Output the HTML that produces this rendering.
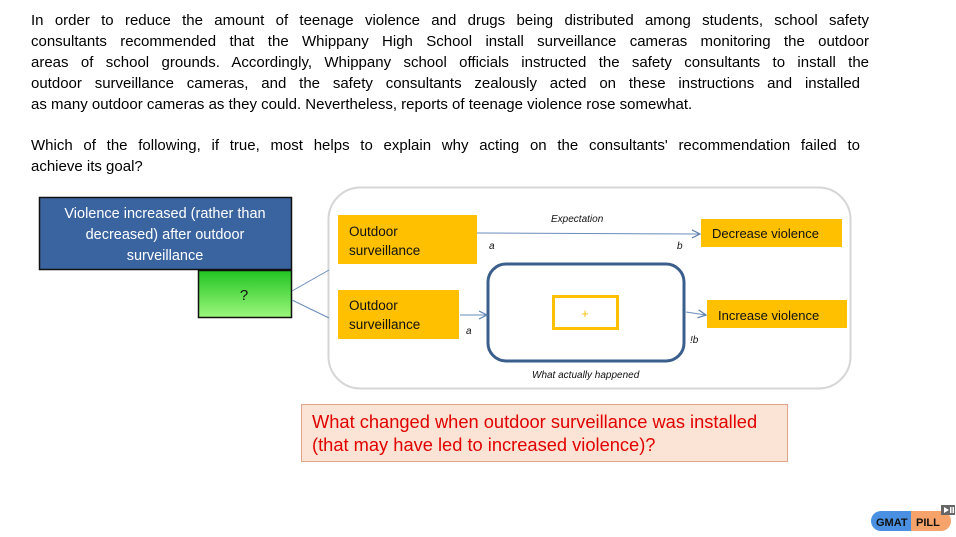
<!DOCTYPE html>
<html><head><meta charset="utf-8"><style>
body{margin:0;width:956px;height:537px;background:#fff;position:relative;overflow:hidden;font-family:"Liberation Sans",Arial,sans-serif}
.p{position:absolute;left:31px;width:838px;font-size:15px;line-height:21px;color:#000;text-align:justify;text-align-last:justify}
.p div{height:21px;white-space:nowrap;text-align:justify;text-align-last:justify}
.ab{position:absolute}
</style></head><body>
<div class="p" style="top:10px">
<div>In order to reduce the amount of teenage violence and drugs being distributed among students, school safety</div>
<div>consultants recommended that the Whippany High School install surveillance cameras monitoring the outdoor</div>
<div>areas of school grounds. Accordingly, Whippany school officials instructed the safety consultants to install the</div>
<div style="width:829px">outdoor surveillance cameras, and the safety consultants zealously acted on these instructions and installed</div>
<div style="text-align-last:left">as many outdoor cameras as they could. Nevertheless, reports of teenage violence rose somewhat.</div>
</div>
<div class="p" style="top:135px;width:829px">
<div>Which of the following, if true, most helps to explain why acting on the consultants' recommendation failed to</div>
<div style="text-align-last:left">achieve its goal?</div>
</div>
<svg class="ab" style="left:0;top:0" width="956" height="537">
<defs>
<linearGradient id="g" x1="0" y1="0" x2="0" y2="1"><stop offset="0" stop-color="#22c422"/><stop offset="1" stop-color="#9cf77c"/></linearGradient>
<marker id="ar" markerWidth="10" markerHeight="10" refX="9" refY="5" orient="auto" markerUnits="userSpaceOnUse"><path d="M1,1 L9,5 L1,9" fill="none" stroke="#5b7fb0" stroke-width="1.2"/></marker>
</defs>
<rect x="328.5" y="187.5" width="522" height="201" rx="32" fill="#fff" stroke="#d6d6d6" stroke-width="2"/>
<rect x="39.5" y="197.5" width="252" height="72" fill="#3a64a0" stroke="#111" stroke-width="1.5"/>
<rect x="198.5" y="270.5" width="93" height="47" fill="url(#g)" stroke="#111" stroke-width="1.5"/>
<line x1="292" y1="291" x2="329" y2="270" stroke="#6a8cbc" stroke-width="1"/>
<line x1="292" y1="300" x2="329" y2="318" stroke="#6a8cbc" stroke-width="1"/>
<rect x="338" y="215" width="139" height="49" fill="#ffc000"/>
<rect x="338" y="290" width="121" height="49" fill="#ffc000"/>
<rect x="701" y="219" width="141" height="28" fill="#ffc000"/>
<rect x="707" y="300" width="140" height="28" fill="#ffc000"/>
<rect x="488" y="264" width="196" height="97" rx="18" fill="#fff" stroke="#3b5f8c" stroke-width="3"/>
<rect x="553.5" y="296.5" width="64" height="32" fill="#fff" stroke="#ffc000" stroke-width="3"/>
<line x1="477" y1="233" x2="700" y2="234" stroke="#6a8cbc" stroke-width="1" marker-end="url(#ar)"/>
<line x1="460" y1="315" x2="487" y2="315" stroke="#6a8cbc" stroke-width="1" marker-end="url(#ar)"/>
<line x1="686" y1="312" x2="706" y2="315" stroke="#6a8cbc" stroke-width="1" marker-end="url(#ar)"/>
<g font-family="Liberation Sans,sans-serif">
<text x="165" y="218" font-size="14.5" fill="#fff" text-anchor="middle">Violence increased (rather than</text>
<text x="165" y="239" font-size="14.5" fill="#fff" text-anchor="middle">decreased) after outdoor</text>
<text x="165" y="260" font-size="14.5" fill="#fff" text-anchor="middle">surveillance</text>
<text x="244" y="300" font-size="15" fill="#111" text-anchor="middle">?</text>
<text x="349" y="236" font-size="13.5" fill="#111">Outdoor</text>
<text x="349" y="255" font-size="13.5" fill="#111">surveillance</text>
<text x="349" y="310" font-size="13.5" fill="#111">Outdoor</text>
<text x="349" y="329" font-size="13.5" fill="#111">surveillance</text>
<text x="712" y="238" font-size="13" fill="#111">Decrease violence</text>
<text x="718" y="320" font-size="13" fill="#111">Increase violence</text>
<text x="585" y="318" font-size="13" fill="#ffc000" text-anchor="middle">+</text>
<g font-size="10" font-style="italic" fill="#111">
<text x="551" y="222">Expectation</text>
<text x="489" y="249">a</text>
<text x="677" y="249">b</text>
<text x="466" y="334">a</text>
<text x="690" y="343">!b</text>
<text x="532" y="378">What actually happened</text>
</g>
</g>
<rect x="301.5" y="404.5" width="486" height="57" fill="#fbe4d5" stroke="#e0a48a" stroke-width="1"/>
<text x="312" y="428" font-size="18.3" fill="#e00000" font-family="Liberation Sans,sans-serif">What changed when outdoor surveillance was installed</text>
<text x="312" y="451" font-size="18.3" fill="#e00000" font-family="Liberation Sans,sans-serif">(that may have led to increased violence)?</text>
<rect x="871" y="511" width="40" height="20" rx="10" fill="#4a90e2"/>
<rect x="901" y="511" width="10" height="20" fill="#4a90e2"/>
<rect x="911" y="511" width="40" height="20" rx="10" fill="#f5a36b"/>
<rect x="911" y="511" width="10" height="20" fill="#f5a36b"/>
<text x="876" y="526" font-size="11" font-weight="bold" fill="#111" font-family="Liberation Sans,sans-serif">GMAT</text>
<text x="916" y="526" font-size="11" font-weight="bold" fill="#111" font-family="Liberation Sans,sans-serif">PILL</text>
<rect x="941" y="505" width="14" height="10" fill="#666"/>
<path d="M944,507 L949,510 L944,513Z" fill="#fff"/><rect x="950" y="507" width="1.5" height="6" fill="#fff"/><rect x="952.5" y="507" width="1.5" height="6" fill="#fff"/>
</svg>
</body></html>
